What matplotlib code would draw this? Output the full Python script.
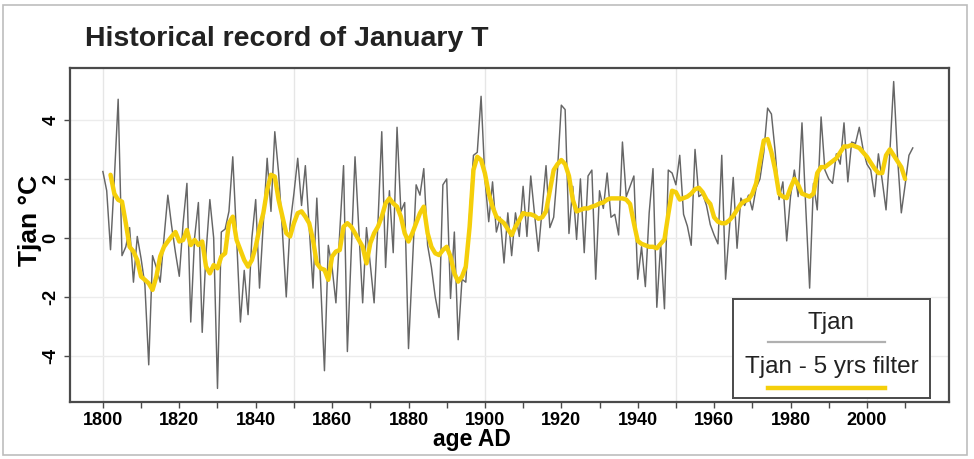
import matplotlib.pyplot as plt
from matplotlib.patches import Rectangle
import numpy as np

plt.rcParams['font.family'] = ['Liberation Sans', 'DejaVu Sans']

# January temperature, one value per year 1800-2012
years = np.arange(1800, 2013)
tjan = [
    2.25, 1.6, -0.4, 2.0, 4.7, -0.6, -0.3, 0.35, -1.5, 0.05,      # 1800s
    -0.7, -1.6, -4.3, -0.6, -1.0, -1.5, 0.0, 1.45, 0.4, -0.5,     # 1810s
    -1.3, 0.5, 1.85, -2.85, 0.0, 1.2, -3.2, -0.5, 1.3, 0.0,       # 1820s
    -5.1, 0.2, 0.3, 0.9, 2.75, 0.0, -2.85, -1.1, -2.6, 0.0,       # 1830s
    1.3, -1.7, 0.5, 2.7, 0.9, 3.6, 2.2, 0.2, -2.0, 0.45,          # 1840s
    1.5, 2.7, 1.1, 2.45, 0.4, -1.7, 1.35, -1.5, -4.5, -0.25,      # 1850s
    -1.0, -2.2, 0.2, 2.45, -3.85, -0.5, 2.75, 0.3, -2.2, 0.35,    # 1860s
    -0.9, -2.2, 0.5, 3.6, -1.0, 1.6, -0.5, 3.75, 0.9, 1.2,        # 1870s
    -3.75, -1.0, 1.8, 1.45, 2.35, -0.25, -1.0, -2.0, -2.7, 1.8,   # 1880s
    2.0, -2.05, 0.2, -3.45, -1.4, -1.5, 0.8, 2.8, 2.9, 4.8,       # 1890s
    2.0, 0.55, 1.9, 0.2, 0.7, -0.85, 0.85, -0.6, 0.85, 0.05,      # 1900s
    1.75, 0.05, 2.1, 0.8, -0.45, 1.0, 2.45, 0.35, 0.7, 2.3,       # 1910s
    4.5, 4.35, 0.15, 1.75, -0.05, 2.0, -0.5, 2.1, 2.3, -1.4,      # 1920s
    1.6, 1.0, 2.2, 0.7, 0.8, 0.1, 3.25, 1.4, 1.75, 2.1,           # 1930s
    -1.4, -0.3, -1.65, 0.85, 2.35, -2.35, -0.2, -2.4, 2.3, 2.2,   # 1940s
    1.8, 2.8, 0.8, 0.4, -0.25, 3.0, 1.4, 1.5, 1.1, 0.45,          # 1950s
    0.1, -0.2, 2.8, -1.4, 0.3, 2.05, -0.35, 1.35, 1.1, 1.45,      # 1960s
    0.95, 1.7, 2.0, 2.9, 4.4, 4.2, 2.9, 1.3, 1.9, -0.1,           # 1970s
    1.4, 2.3, 1.4, 3.9, 1.0, -1.7, 1.85, 0.95, 4.1, 2.3,          # 1980s
    2.0, 1.85, 2.85, 2.5, 3.9, 1.9, 3.25, 3.2, 3.75, 3.0,         # 1990s
    2.5, 2.3, 1.4, 2.85, 1.95, 0.95, 2.9, 5.3, 2.75, 0.85,        # 2000s
    1.8, 2.8, 3.05,                                               # 2010-2012
]

# 5-year filtered series, 1802-2010
years_f = np.arange(1802, 2011)
tjan_f = [
    2.14, 1.5, 1.29, 1.23, 0.5, -0.3, -0.46, -0.75,                     # 1802-1809
    -1.31, -1.42, -1.54, -1.76, -1.31, -0.63, -0.3, -0.12, 0.05, 0.2,   # 1810s
    -0.12, -0.07, 0.27, -0.24, -0.07, -0.24, -0.12, -0.97, -1.2, -0.92, # 1820s
    -1.03, -0.63, -0.52, 0.5, 0.72, -0.07, -0.41, -0.75, -0.97, -0.75,  # 1830s
    -0.3, 0.33, 0.84, 1.63, 2.14, 2.08, 1.29, 0.72, 0.16, 0.05,         # 1840s
    0.5, 0.84, 0.9, 0.72, 0.5, -0.07, -0.86, -1.03, -1.08, -1.42,       # 1850s
    -0.63, -0.46, -0.41, 0.38, 0.5, 0.38, 0.16, -0.07, -0.3, -0.86,     # 1860s
    -0.18, 0.16, 0.38, 0.72, 1.17, 1.34, 1.17, 1.06, 0.72, 0.16,        # 1870s
    -0.12, 0.16, 0.5, 0.84, 1.06, 0.16, -0.3, -0.52, -0.58, -0.41,      # 1880s
    -0.3, -0.63, -1.2, -1.48, -1.31, -0.97, 0.38, 2.3, 2.75, 2.64,      # 1890s
    2.19, 1.51, 1.06, 0.72, 0.61, 0.5, 0.3, 0.1, 0.38, 0.6,             # 1900s
    0.84, 0.8, 0.8, 0.75, 0.65, 0.7, 0.9, 1.6, 2.3, 2.5,                # 1910s
    2.64, 2.5, 2.1, 1.3, 0.9, 0.95, 1.0, 1.0, 1.06, 1.1,                # 1920s
    1.17, 1.2, 1.3, 1.34, 1.34, 1.34, 1.34, 1.3, 1.15, 0.5,             # 1930s
    -0.1, -0.2, -0.25, -0.3, -0.3, -0.35, -0.2, -0.05, 0.8, 1.6,        # 1940s
    1.55, 1.3, 1.35, 1.4, 1.5, 1.65, 1.7, 1.55, 1.3, 1.15,              # 1950s
    0.7, 0.55, 0.5, 0.5, 0.6, 0.75, 0.95, 1.15, 1.25, 1.3,              # 1960s
    1.5, 1.85, 2.6, 3.3, 3.35, 2.9, 2.3, 1.5, 1.4, 1.35,                # 1970s
    1.7, 2.0, 1.8, 1.5, 1.45, 1.4, 1.5, 2.2, 2.4, 2.4,                  # 1980s
    2.5, 2.6, 2.7, 2.9, 3.1, 3.1, 3.15, 3.1, 3.05, 2.9,                 # 1990s
    2.75, 2.55, 2.35, 2.2, 2.2, 2.8, 3.0, 2.8, 2.6, 2.4,                # 2000s
    2.0,                                                                # 2010
]

x_ticks = list(range(1800, 2001, 20))
y_ticks = [-4, -2, 0, 2, 4]

GRAY = '#666666'
YELLOW = '#f5cf0a'
FRAME = '#4a4a4a'

fig = plt.figure(figsize=(9.74, 4.59), dpi=100)
fig.patches.append(Rectangle((0.003, 0.008), 0.99, 0.981, transform=fig.transFigure,
                             fill=False, edgecolor='#bdbdbd', linewidth=1.2))

ax = fig.add_axes([0.0719, 0.1242, 0.9025, 0.7277])
ax.set_xlim(1791.4, 2021.5)
ax.set_ylim(-5.56, 5.76)

# light grid
for gx in range(1800, 2001, 50):
    ax.axvline(gx, color='#e6e6e6', linewidth=1.0, zorder=0)
for gy in y_ticks:
    ax.axhline(gy, color='#ececec', linewidth=1.0, zorder=0)

ax.plot(years, tjan, color=GRAY, linewidth=1.05, zorder=2)
ax.plot(years_f, tjan_f, color=YELLOW, linewidth=3.2, zorder=3,
        solid_joinstyle='round', solid_capstyle='round')

ax.set_xticks(x_ticks)
ax.set_xticks(range(1810, 2011, 20), minor=True)
ax.set_yticks(y_ticks)
ax.set_yticklabels([str(v) for v in y_ticks], rotation=90, va='center')
ax.tick_params(axis='both', which='both', direction='out', length=4,
               width=1.0, color=FRAME, labelsize=13)
ax.tick_params(axis='x', pad=3)
for lbl in ax.get_xticklabels() + ax.get_yticklabels():
    lbl.set_fontweight('bold')

for sp in ax.spines.values():
    sp.set_color(FRAME)
    sp.set_linewidth(1.6)

fig.text(0.087, 0.915, 'Historical record of January T', fontsize=20.5,
         fontweight='bold', color='#222222', ha='left', va='center')
fig.text(0.485, 0.043, 'age AD', fontsize=16.5, fontweight='bold',
         ha='center', va='center')
fig.text(0.031, 0.52, 'Tjan \u00b0C', fontsize=19, fontweight='bold',
         rotation=90, ha='center', va='center')

# legend box, drawn as text over a line for each series
lax = fig.add_axes([733 / 974, 1 - 398 / 459, 197 / 974, 99 / 459])
lax.set_xlim(0, 1)
lax.set_ylim(0, 1)
lax.set_xticks([])
lax.set_yticks([])
for sp in lax.spines.values():
    sp.set_color(FRAME)
    sp.set_linewidth(1.4)
lax.text(0.5, 0.76, 'Tjan', fontsize=17.5, ha='center', va='center', color='#222222')
lax.plot([0.18, 0.77], [0.57, 0.57], color='#b0b0b0', linewidth=1.6)
lax.text(0.5, 0.31, 'Tjan - 5 yrs filter', fontsize=17.5, ha='center', va='center',
         color='#222222')
lax.plot([0.18, 0.77], [0.10, 0.10], color=YELLOW, linewidth=3.2)

fig.savefig('out.png', dpi=100)
